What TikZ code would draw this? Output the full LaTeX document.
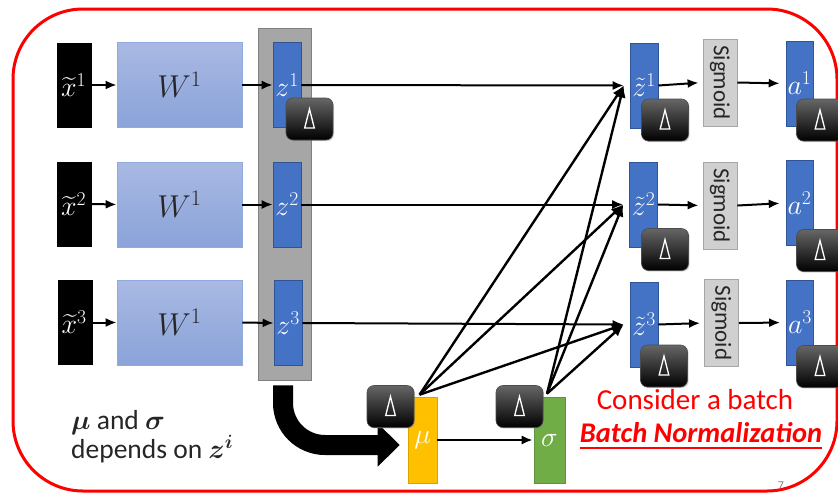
\RequirePackage{fix-cm}
\documentclass[tikz,border=0pt]{standalone}
\usepackage{amsmath,bm,graphicx}
\usepackage{fontspec}
\newfontfamily\calib{Carlito}
\usetikzlibrary{arrows.meta,calc,shadows}

\definecolor{zblue}{HTML}{4472C4}
\definecolor{zedge}{HTML}{2F5597}
\definecolor{wtop}{HTML}{A9B9E3}
\definecolor{wbot}{HTML}{8AA3D9}
\definecolor{wedge}{HTML}{8FAADC}
\definecolor{colgray}{HTML}{A6A6A6}
\definecolor{coledge}{HTML}{808080}
\definecolor{sigfill}{HTML}{D0D0D0}
\definecolor{sigedge}{HTML}{A6A6A6}
\definecolor{muyel}{HTML}{FFC000}
\definecolor{sdgreen}{HTML}{70AD47}
\definecolor{framered}{HTML}{FF0000}

% weight-matrix label, set a little larger than the other symbols
\newcommand{\wlab}{\scalebox{1.13}{$W^1$}}

\begin{document}
\begin{tikzpicture}[x=1pt,y=-1pt,
  every node/.style={inner sep=0pt},
  lab/.style={font=\fontsize{28}{32}\selectfont},
  xbox/.style={fill=black, minimum width=35pt, minimum height=85pt,
    label={[lab,text=white,anchor=west,xshift=4pt]west:$\widetilde{x}^{#1}$}},
  wbox/.style={top color=wtop, bottom color=wbot, draw=wedge, line width=0.8pt,
    minimum width=125pt, minimum height=85pt, lab, text=black!85},
  bluebox/.style={fill=zblue, draw=zedge, line width=0.6pt,
    minimum width=28pt, minimum height=85pt, lab, text=white},
  sigbox/.style={fill=sigfill, draw=sigedge, line width=0.8pt,
    minimum width=34pt, minimum height=87pt,
    font=\calib\fontsize{23}{25}\selectfont, text=black!85},
  statbox/.style={fill=#1, draw=#1!85!black, line width=0.6pt,
    minimum width=29pt, minimum height=86pt, lab, text=white},
  deltabox/.style={rounded corners=7pt, minimum width=47pt, minimum height=42pt,
    top color=black!60, middle color=black!95, bottom color=black,
    draw=black!70, line width=0.6pt,
    drop shadow={opacity=0.3, shadow xshift=1.2pt, shadow yshift=-1.2pt}},
  tri/.style={white, line width=1.3pt, line join=miter},
  arr/.style={line width=2pt, -{Latex[length=11pt,width=9pt]}},
  fan/.style={line width=2.4pt, -{Latex[length=12pt,width=10pt]}},
  bigarrow/.style={line width=20pt, rounded corners=42pt,
    -{Triangle[length=22pt,width=42pt]}},
  frame/.style={draw=framered, line width=3pt, rounded corners=70pt},
]
\useasboundingbox (0,0) rectangle (838,493);

% outer frame
\draw[frame] (13,9) rectangle (837,491);

% column holding the z^i
\node[fill=colgray, draw=coledge, line width=0.8pt,
      minimum width=53pt, minimum height=352pt] (col) at (284.5,204) {};

% inputs
\node[xbox=1] (x1) at (74.5,85) {};
\node[xbox=2] (x2) at (74.5,204) {};
\node[xbox=3] (x3) at (75,322.5) {};

% weights
\node[wbox] (W1) at (179.5,85) {\wlab};
\node[wbox] (W2) at (179.5,204.5) {\wlab};
\node[wbox] (W3) at (179.5,322.5) {\wlab};

% pre-activations
\node[bluebox] (z1) at (287,85) {$z^1$};
\node[bluebox] (z2) at (287,204.5) {$z^2$};
\node[bluebox] (z3) at (288,323) {$z^3$};

% normalised pre-activations
\node[bluebox] (zt1) at (644,85.5) {$\tilde{z}^1$};
\node[bluebox] (zt2) at (643.5,204.5) {$\tilde{z}^2$};
\node[bluebox] (zt3) at (644,324.5) {$\tilde{z}^3$};

% activation functions
\node[sigbox] (sg1) at (720,82.5) {\rotatebox{-90}{Sigmoid}};
\node[sigbox] (sg2) at (720,205.5) {\rotatebox{-90}{Sigmoid}};
\node[sigbox] (sg3) at (721.5,323) {\rotatebox{-90}{Sigmoid}};

% outputs
\node[bluebox, minimum width=27pt] (a1) at (799.5,83.5) {$a^1$};
\node[bluebox, minimum width=27pt] (a2) at (799.5,203) {$a^2$};
\node[bluebox, minimum width=27pt] (a3) at (800,322.5) {$a^3$};

% batch statistics
\node[statbox=muyel] (mu) at (422.5,440) {$\mu$};
\node[statbox=sdgreen, minimum width=31pt] (sd) at (549.5,440) {$\sigma$};

% row connectors
\foreach \i in {1,2,3} {
  \coordinate (in\i) at ($(zt\i.west)+(-6,0)$);
  \draw[arr] (x\i.east) -- (W\i.west);
  \draw[arr] (W\i.east) -- (z\i.west);
  \draw[arr] (z\i.east) -- (in\i);
  \draw[arr, shorten >=4pt] (zt\i.east) -- (sg\i.west);
  \draw[arr, shorten >=6pt] (sg\i.east) -- (a\i.west);
}

% statistics feed every normalisation
\coordinate (m0) at ($(mu.north west)!0.4!(mu.north east)+(0,-2)$);
\coordinate (s0) at ($(sd.north west)!0.42!(sd.north east)+(0,-3)$);
\foreach \i in {1,2,3} {
  \draw[fan] (m0) -- (in\i);
  \draw[fan] (s0) -- (in\i);
}
\draw[arr, shorten >=1pt] (mu.east) -- (sd.west);

% all z^i go into the statistics
\draw[bigarrow] ($(col.south)+(-1.5,5)$) |- ($(mu.west)+(-8,5)$);

% back-propagation markers
\node[deltabox] (dz1) at (309.5,119) {};
\node[deltabox] (dt1) at (665,120) {};
\node[deltabox] (dt2) at (665,249.5) {};
\node[deltabox] (dt3) at (664,366) {};
\node[deltabox] (da1) at (820,120) {};
\node[deltabox] (da2) at (820,250.5) {};
\node[deltabox] (da3) at (820,366.5) {};
\node[deltabox] (dmu) at (390.5,406.5) {};
\node[deltabox] (dsd) at (519.5,406.5) {};
\foreach \d in {dz1,dt1,dt2,dt3,da1,da2,da3,dmu,dsd} {
  \draw[tri] ($(\d.center)+(0,-10)$) -- ($(\d.center)+(4.8,9)$)
    -- ($(\d.center)+(-4.8,9)$) -- cycle;
}

% notes
\node[anchor=north west, align=left, font=\calib\fontsize{27.5}{29}\selectfont,
      text=black!85] (note) at (71,410)
  {$\bm{\mu}$ and $\bm{\sigma}$\\depends on $\bm{z}^{\bm{i}}$};
\node[text=framered, font=\calib\fontsize{29}{32}\selectfont] (cab) at (695,400)
  {Consider a batch};
\node[text=framered, font=\calib\bfseries\itshape\fontsize{28.5}{31}\selectfont,
      anchor=base] (bn) at (701,442) {Batch Normalization};
\draw[framered, line width=1.8pt] ($(bn.base west)+(0,6)$) -- ($(bn.base east)+(0,6)$);
\node[text=black!50, font=\calib\fontsize{12}{12}\selectfont] (pg) at (781,486) {7};
\end{tikzpicture}
\end{document}
